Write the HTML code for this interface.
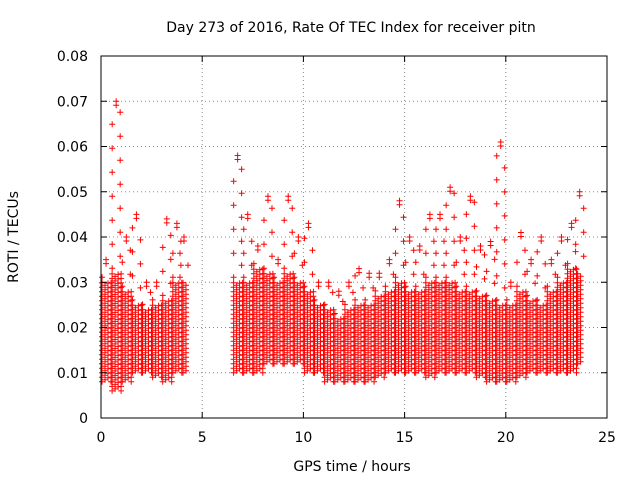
<!DOCTYPE html>
<html><head><meta charset="utf-8"><style>
body{margin:0;background:#fff;}
svg{display:block;font-family:"DejaVu Sans","Liberation Sans",sans-serif;}
</style></head><body>
<svg id="chart" width="640" height="480" viewBox="0 0 640 480" xmlns="http://www.w3.org/2000/svg">
<text x="351" y="32" font-size="14" text-anchor="middle">Day 273 of 2016, Rate Of TEC Index for receiver pitn</text>
<text x="352" y="471" font-size="14" text-anchor="middle">GPS time / hours</text>
<text transform="translate(18,237) rotate(-90)" font-size="14" text-anchor="middle">ROTI / TECUs</text>
<g id="grid"></g>
<g id="marks"></g>
<rect x="101" y="56" width="506" height="362" fill="none" stroke="#000" stroke-width="1"/>
<g id="ticks"></g>
</svg>
<script>
const xTicks=[0,5,10,15,20,25];
const yTicks=[0,0.01,0.02,0.03,0.04,0.05,0.06,0.07,0.08];
const yTickLabels=["0","0.01","0.02","0.03","0.04","0.05","0.06","0.07","0.08"];
const binStart=[0,0.5,1,1.5,2,2.5,3,3.5,4, 6.5,7,7.5,8,8.5,9,9.5,10,10.5,11,11.5,12,12.5,13,13.5,14,14.5,15,15.5,16,16.5,17,17.5,18,18.5,19,19.5,20,20.5,21,21.5,22,22.5,23,23.5];
const binEnd=[0.5,1,1.5,2,2.5,3,3.5,4,4.2, 7,7.5,8,8.5,9,9.5,10,10.5,11,11.5,12,12.5,13,13.5,14,14.5,15,15.5,16,16.5,17,17.5,18,18.5,19,19.5,20,20.5,21,21.5,22,22.5,23,23.5,23.8];
const lo=[.008,.006,.008,.01,.01,.009,.008,.01,.01, .01,.01,.01,.012,.012,.012,.012,.01,.01,.008,.008,.008,.008,.008,.009,.01,.01,.01,.01,.009,.01,.01,.01,.01,.009,.008,.008,.008,.009,.01,.01,.01,.01,.01,.012];
const hi=[.03,.032,.028,.025,.024,.025,.026,.03,.03, .03,.03,.033,.032,.03,.032,.03,.028,.025,.024,.022,.024,.025,.025,.027,.028,.03,.028,.028,.03,.03,.03,.028,.028,.027,.026,.025,.025,.028,.026,.025,.028,.03,.033,.032];
const peak=[.035,.07,.04,.045,.03,.03,.044,.043,.04, .058,.045,.038,.049,.035,.049,.04,.043,.03,.03,.028,.03,.033,.032,.032,.035,.048,.04,.038,.045,.045,.051,.04,.049,.038,.039,.061,.03,.041,.035,.04,.035,.04,.043,.05];
const X=h=>101+h*506/25, Y=v=>418-v*362/0.08;
const NS="http://www.w3.org/2000/svg";
const grid=document.getElementById('grid'),ticks=document.getElementById('ticks'),marks=document.getElementById('marks');
function mk(tag,attrs,parent){const e=document.createElementNS(NS,tag);for(const k in attrs)e.setAttribute(k,attrs[k]);parent.appendChild(e);return e;}
xTicks.forEach((t,i)=>{
 const x=X(t);
 if(i>0&&i<xTicks.length-1){const g=mk('line',{x1:x,x2:x,y1:56,y2:418,stroke:'#888','stroke-dasharray':'1,3'},grid);}
 const l=mk('path',{d:`M${x},418v-6M${x},56v6`,stroke:'#000'},ticks);
 const tx=mk('text',{x:x,y:442,'font-size':14,'text-anchor':'middle'},ticks);tx.textContent=t;
 
 
});
yTicks.forEach((t,i)=>{
 const y=Y(t);
 if(i>0&&i<yTicks.length-1){const g=mk('line',{x1:101,x2:607,y1:y,y2:y,stroke:'#888','stroke-dasharray':'1,3'},grid);}
 const l=mk('path',{d:`M101,${y}h6M607,${y}h-6`,stroke:'#000'},ticks);
 const tx=mk('text',{x:88,y:y+5,'font-size':14,'text-anchor':'end'},ticks);tx.textContent=yTickLabels[i];
 
 
});
binStart.forEach((s,i)=>{
 let d='';const x0=X(s),x1=X(binEnd[i]);const yl=Y(lo[i]),yh=Y(hi[i]),yp=Y(peak[i]);
 let c=0;
 for(let x=x0+1;x<x1;x+=3){
  const off=(c%3)*2;c++;
  for(let y=yl-off;y>yh;y-=4.5){d+=`M${(x-3).toFixed(1)},${y.toFixed(1)}h6M${x.toFixed(1)},${(y-3).toFixed(1)}v6`;}
 }
 const xm=(x0+x1)/2;let k=0;
 for(let y=yh-5;y>=yp+6;y-=12){const xx=xm+((k%2)?4:-4);k++;d+=`M${xx-3},${y}h6M${xx},${y-3}v6`;}
 d+=`M${xm-3},${yp}h6M${xm},${yp-3}v6M${xm-3},${yp+4}h6M${xm},${yp+1}v6`;
 const p=mk('path',{d:d,stroke:'#f00','stroke-width':1,fill:'none'},marks);
 
 
});
</script>
</body></html>
